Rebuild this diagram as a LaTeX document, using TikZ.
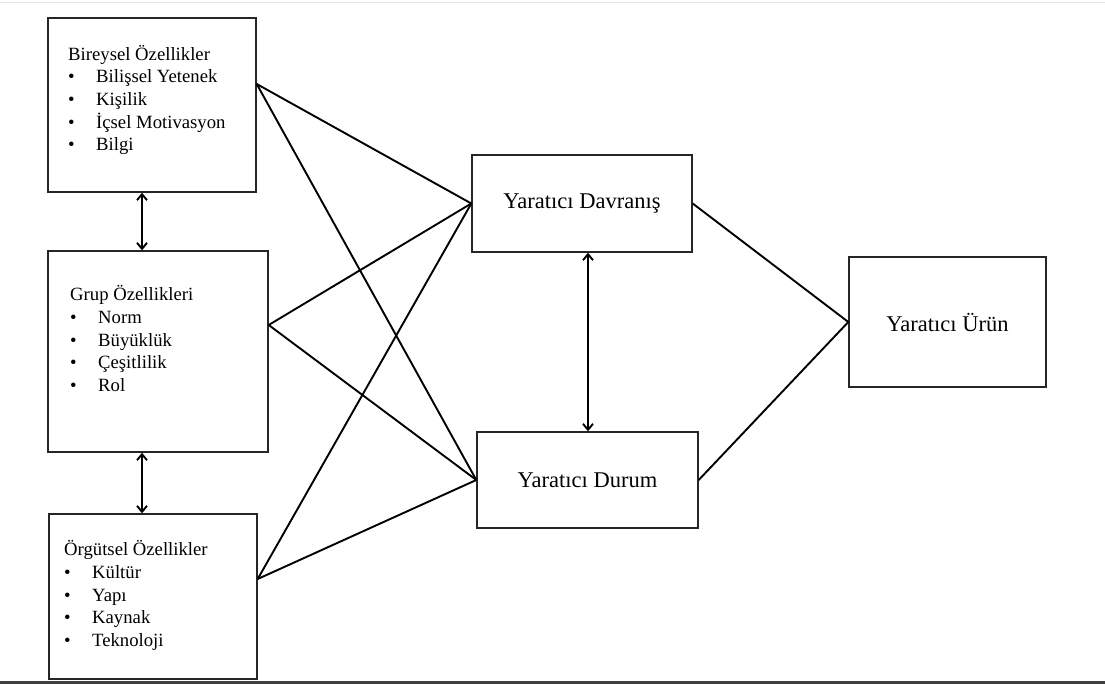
\documentclass[tikz,border=0pt]{standalone}
\usepackage{fontspec}
\setmainfont{Liberation Serif}
\usetikzlibrary{arrows.meta}
\newcommand{\madde}[1]{\makebox[28bp][l]{\textbullet}#1}

\begin{document}
\begin{tikzpicture}[x=1bp, y=-1bp,
    kutu/.style={draw=black!85, line width=1.4bp, inner sep=0pt},
    liste/.style={align=left, anchor=north west, inner sep=0pt,
        font=\fontsize{18.7bp}{22.6bp}\selectfont},
    baslik/.style={font=\fontsize{22.5bp}{26bp}\selectfont},
    bag/.style={line width=1.9bp, black},
    cift/.style={line width=1.9bp, black, {Straight Barb[length=6bp,width=10bp]}-{Straight Barb[length=6bp,width=10bp]}}]
    \useasboundingbox (0,0) rectangle (1105,685);

    % Rules at top and bottom
    \draw[black!10, line width=1bp] (0,3) -- (1105,3);
    \draw[black!75, line width=2.5bp] (0,682.5) -- (1105,682.5);

    % Left boxes
    \node[kutu, minimum width=208bp, minimum height=174bp] (bireysel) at (152,105) {};
    \node[liste] (bireyselYazi) at (68,45) {Bireysel Özellikler\\
        \madde{Bilişsel Yetenek}\\ \madde{Kişilik}\\ \madde{İçsel Motivasyon}\\ \madde{Bilgi}};
    \node[kutu, minimum width=220bp, minimum height=201bp] (grup) at (158,351.5) {};
    \node[liste] (grupYazi) at (70,285.5) {Grup Özellikleri\\
        \madde{Norm}\\ \madde{Büyüklük}\\ \madde{Çeşitlilik}\\ \madde{Rol}};
    \node[kutu, minimum width=208bp, minimum height=165bp] (orgutsel) at (153,596.5) {};
    \node[liste] (orgutselYazi) at (64,540.5) {Örgütsel Özellikler\\
        \madde{Kültür}\\ \madde{Yapı}\\ \madde{Kaynak}\\ \madde{Teknoloji}};

    % Middle and right boxes
    \node[kutu, baslik, minimum width=220bp, minimum height=97bp] (davranis) at (582,203.5) {Yaratıcı Davranış};
    \node[kutu, baslik, minimum width=221bp, minimum height=96bp] (durum) at (587.5,480) {Yaratıcı Durum};
    \node[kutu, baslik, minimum width=197bp, minimum height=130bp] (urun) at (947.5,322) {Yaratıcı Ürün};

    % Connector end points
    \coordinate (bireyselR) at ([yshift=21bp]bireysel.east);
    \coordinate (grupR) at ([yshift=26.5bp]grup.east);
    \coordinate (orgutselR) at ([yshift=17.5bp]orgutsel.east);
    \coordinate (solX) at (142,0);
    \coordinate (ortaX) at (588,0);

    % Connectors
    \foreach \kaynak in {bireyselR, grupR, orgutselR} {
        \draw[bag] (\kaynak) -- (davranis.west);
        \draw[bag] (\kaynak) -- (durum.west);
    }
    \draw[bag] (davranis.east) -- (urun.west);
    \draw[bag] (durum.east) -- (urun.west);

    % Two-way arrows
    \draw[cift] (bireysel.south -| solX) -- (grup.north -| solX);
    \draw[cift] (grup.south -| solX) -- (orgutsel.north -| solX);
    \draw[cift] (davranis.south -| ortaX) -- (durum.north -| ortaX);
\end{tikzpicture}
\end{document}
